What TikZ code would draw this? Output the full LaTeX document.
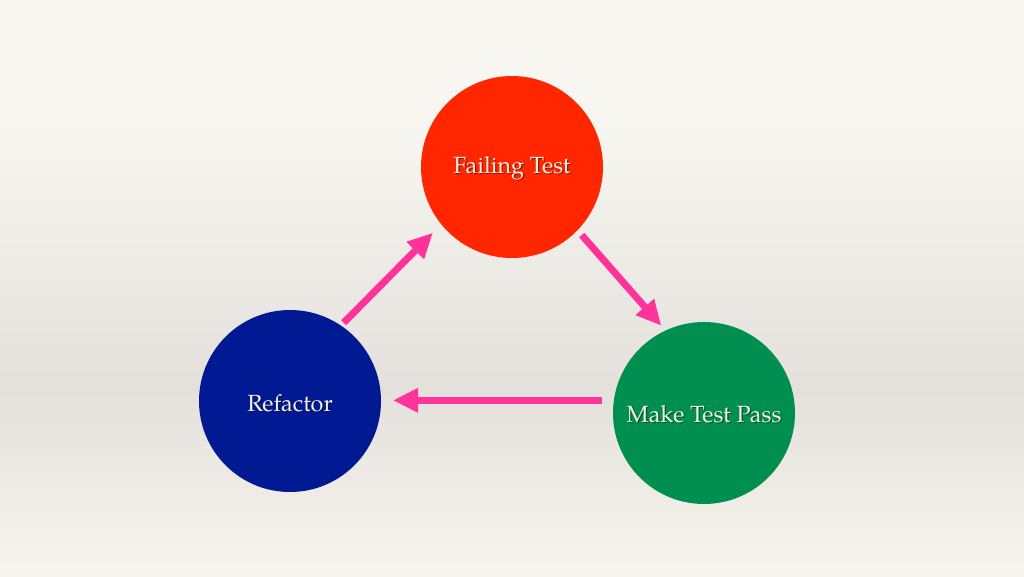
\documentclass[tikz,border=0pt]{standalone}
\usepackage{fontspec}
\setmainfont{TeX Gyre Pagella}
\usetikzlibrary{arrows.meta}
\definecolor{bgtop}{HTML}{F8F6F1}
\definecolor{bgmid}{HTML}{E4E1DC}
\definecolor{bgbot}{HTML}{F8F5EF}
\definecolor{failred}{HTML}{FF2600}
\definecolor{passgreen}{HTML}{008F51}
\definecolor{refblue}{HTML}{011993}
\definecolor{arrowpink}{HTML}{FF3399}
\definecolor{labeltext}{HTML}{F5F0E6}
\tikzset{
  stage/.style={circle, minimum size=182pt, inner sep=0pt, outer sep=0pt, draw=none},
  lbl/.style={text=labeltext, font=\fontsize{23.4}{28}\selectfont, inner sep=0pt},
  lblshadow/.style={text=black, opacity=0.45, font=\fontsize{23.4}{28}\selectfont, inner sep=0pt},
  flow/.style={draw=arrowpink, line width=7pt, -{Triangle[length=25pt,width=23pt]}},
}
\begin{document}
\begin{tikzpicture}[x=1pt,y=-1pt]
\useasboundingbox (0,0) rectangle (1024,576);
\shade[top color=bgtop, bottom color=bgtop] (0,0) rectangle (1024,120);
\shade[top color=bgtop, bottom color=bgmid] (0,120) rectangle (1024,390);
\shade[top color=bgmid, bottom color=bgbot] (0,390) rectangle (1024,576);

\node[stage, fill=failred] (fail) at (512,167) {};
\node[stage, fill=passgreen] (make) at (704,413) {};
\node[stage, fill=refblue] (ref) at (290,401) {};

\node[lblshadow] (failsh) at (513.2,169.5) {Failing Test};
\node[lbl] (failt) at (512,168) {Failing Test};
\node[lblshadow] (makesh) at (705.2,415.5) {Make Test Pass};
\node[lbl] (maket) at (704,414) {Make Test Pass};
\node[lblshadow] (refsh) at (291.2,404.5) {Refactor};
\node[lbl] (reft) at (290,403) {Refactor};

\draw[flow, shorten <=4pt, shorten >=12pt] (ref.56) -- (fail.219);
\draw[flow, shorten <=6.5pt, shorten >=6.5pt] (fail.316) -- (make.115.5);
\draw[flow, shorten <=11.5pt, shorten >=12pt] (make.172) -- (ref.east |- make.172);
\end{tikzpicture}
\end{document}
